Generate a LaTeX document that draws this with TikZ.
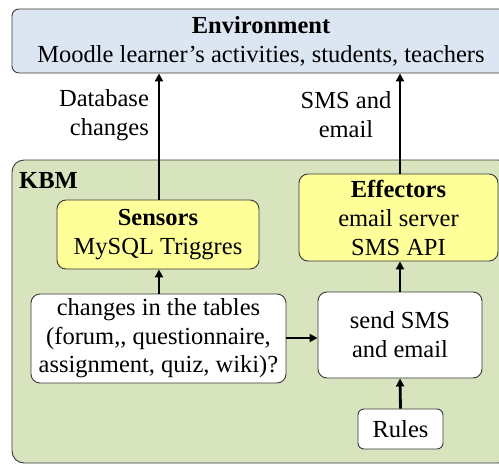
\documentclass[tikz,border=0pt]{standalone}
\usepackage{fontspec}
\setmainfont{Liberation Serif}
\newfontfamily\tnr{Liberation Serif}
\usetikzlibrary{arrows.meta}
\definecolor{envblue}{HTML}{DCE6F2}
\definecolor{kbmgreen}{HTML}{D7E4BD}
\definecolor{boxyellow}{HTML}{FFFF99}
\definecolor{edge}{HTML}{3A3A3A}
\begin{document}
\begin{tikzpicture}[x=1pt,y=-1pt,
  every node/.style={font=\tnr\fontsize{24.5}{29}\selectfont, inner sep=0pt, align=center},
  box/.style={draw=edge, line width=0.9pt, rounded corners=9pt},
  arr/.style={line width=2.8pt, -{Triangle[length=8pt,width=8pt]}}]
\useasboundingbox (0,0) rectangle (499,464);
\clip (0,0) rectangle (499,464);
% containers
\node[box, fill=envblue, rounded corners=7pt, minimum width=498pt, minimum height=64pt] (env) at (261,41)
  {\textbf{Environment}\\Moodle learner’s activities, students, teachers};
\node[box, fill=kbmgreen, rounded corners=12pt, minimum width=498pt, minimum height=303pt] (kbm) at (261,311.5) {};
\node[anchor=west] (kbmlabel) at (19,181) {\textbf{KBM}};
% inner boxes
\node[box, fill=boxyellow, minimum width=202pt, minimum height=69pt] (sens) at (158,234.5)
  {\textbf{Sensors}\\MySQL Triggres};
\node[box, fill=boxyellow, minimum width=199pt, minimum height=87pt] (eff) at (398.5,217.5)
  {\textbf{Effectors}\\email server\\SMS API};
\node[box, fill=white, minimum width=255pt, minimum height=89pt, font=\tnr\fontsize{24.5}{28.5}\selectfont] (chg) at (158.5,338.5)
  {changes in the tables\\(forum,, questionnaire,\\assignment, quiz, wiki)?};
\node[box, fill=white, minimum width=164pt, minimum height=86pt] (send) at (400,335)
  {send SMS\\and email};
\node[box, fill=white, rounded corners=6pt, minimum width=85pt, minimum height=40pt] (rules) at (400.5,429) {Rules};
% labels
\node[align=right] (dblab) at (104,115) {Database\\changes};
\node (smslab) at (346,115) {SMS and\\email};
% connectors
\draw[arr] (sens.north -| 159,0) -- (env.south -| 159,0);
\draw[arr] (eff.north -| 400,0) -- (env.south -| 400,0);
\draw[arr] (chg.north -| 159,0) -- (sens.south -| 159,0);
\draw[arr] (send.north) -- (send.north |- eff.south);
\draw[arr] (rules.north) -- (send.south);
\draw[arr] (chg.east |- 0,338) -- (send.west |- 0,338);
\end{tikzpicture}
\end{document}
